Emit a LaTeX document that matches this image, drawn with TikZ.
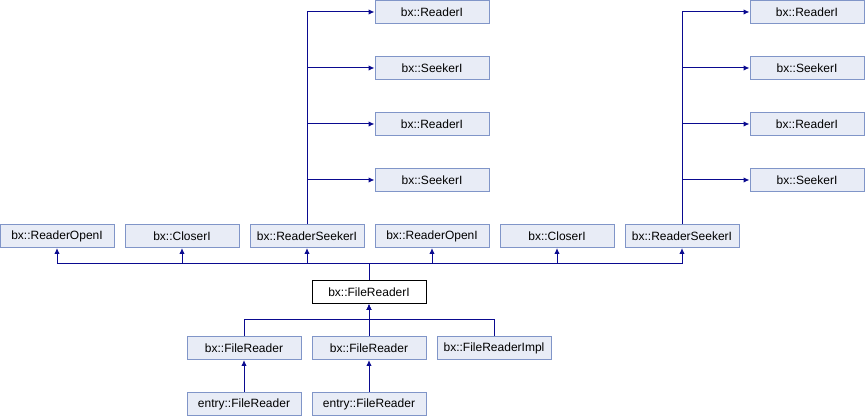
\documentclass[tikz,border=0pt]{standalone}
\usepackage{fontspec}
\setmainfont{Liberation Sans}
\usetikzlibrary{positioning}
\usetikzlibrary{arrows.meta}
\definecolor{boxFill}{HTML}{E8ECF6}
\definecolor{boxLine}{HTML}{8095C8}
\definecolor{inhLine}{HTML}{0A0A90}
\tikzset{
    classBox/.style={draw=boxLine, fill=boxFill, line width=0.75pt, minimum width=85.5pt, minimum height=17.25pt, inner sep=0pt, font=\fontsize{9}{10}\selectfont},
    mainBox/.style={classBox, draw=black, fill=white},
    inherit/.style={draw=inhLine, line width=0.75pt},
    inheritArrow/.style={inherit, -{Latex[length=4.5pt, width=4pt]}}
}

\begin{document}
\begin{tikzpicture}[x=0.75pt, y=-0.75pt]
			\useasboundingbox (0,0) rectangle (865,416);
			% top rows: parents of the two ReaderSeekerI
			\node[classBox] (readerA) at (432,12) {bx::ReaderI};
			\node[classBox] (seekerA) at (432,68) {bx::SeekerI};
			\node[classBox] (readerB) at (432,124) {bx::ReaderI};
			\node[classBox] (seekerB) at (432,180) {bx::SeekerI};
			\node[classBox] (readerC) at (807,12) {bx::ReaderI};
			\node[classBox] (seekerC) at (807,68) {bx::SeekerI};
			\node[classBox] (readerD) at (807,124) {bx::ReaderI};
			\node[classBox] (seekerD) at (807,180) {bx::SeekerI};
			% interface row
			\node[classBox] (readerOpenA) at (57,236) {bx::ReaderOpenI};
			\node[classBox] (closerA) at (182,236) {bx::CloserI};
			\node[classBox] (readerSeekerA) at (307,236) {bx::ReaderSeekerI};
			\node[classBox] (readerOpenB) at (432,236) {bx::ReaderOpenI};
			\node[classBox] (closerB) at (557,236) {bx::CloserI};
			\node[classBox] (readerSeekerB) at (682,236) {bx::ReaderSeekerI};
			% the class itself and its children
			\node[mainBox] (fileReaderI) at (369,292) {bx::FileReaderI};
			\node[classBox] (fileReaderA) at (244,348) {bx::FileReader};
			\node[classBox] (fileReaderB) at (369,348) {bx::FileReader};
			\node[classBox] (fileReaderImpl) at (494,348) {bx::FileReaderImpl};
			\node[classBox] (entryReaderA) at (244,404) {entry::FileReader};
			\node[classBox] (entryReaderB) at (369,404) {entry::FileReader};
			\coordinate (busTop) at (369,264);
			\coordinate (busBottom) at (369,320);
			% connectors
			\draw[inheritArrow] (readerSeekerA.north) |- (readerA.west);
			\draw[inheritArrow] (readerSeekerA.north) |- (seekerA.west);
			\draw[inheritArrow] (readerSeekerA.north) |- (readerB.west);
			\draw[inheritArrow] (readerSeekerA.north) |- (seekerB.west);
			\draw[inheritArrow] (readerSeekerB.north) |- (readerC.west);
			\draw[inheritArrow] (readerSeekerB.north) |- (seekerC.west);
			\draw[inheritArrow] (readerSeekerB.north) |- (readerD.west);
			\draw[inheritArrow] (readerSeekerB.north) |- (seekerD.west);
			\draw[inherit] (fileReaderI.north) -- (busTop);
			\draw[inheritArrow] (busTop) -| (readerOpenA.south);
			\draw[inheritArrow] (busTop) -| (closerA.south);
			\draw[inheritArrow] (busTop) -| (readerSeekerA.south);
			\draw[inheritArrow] (busTop) -| (readerOpenB.south);
			\draw[inheritArrow] (busTop) -| (closerB.south);
			\draw[inheritArrow] (busTop) -| (readerSeekerB.south);
			\draw[inheritArrow] (fileReaderA.north) |- (busBottom) -- (fileReaderI.south);
			\draw[inheritArrow] (fileReaderB.north) -- (fileReaderI.south);
			\draw[inheritArrow] (fileReaderImpl.north) |- (busBottom) -- (fileReaderI.south);
			\draw[inheritArrow] (entryReaderA.north) -- (fileReaderA.south);
			\draw[inheritArrow] (entryReaderB.north) -- (fileReaderB.south);
	\end{tikzpicture}
\end{document}
